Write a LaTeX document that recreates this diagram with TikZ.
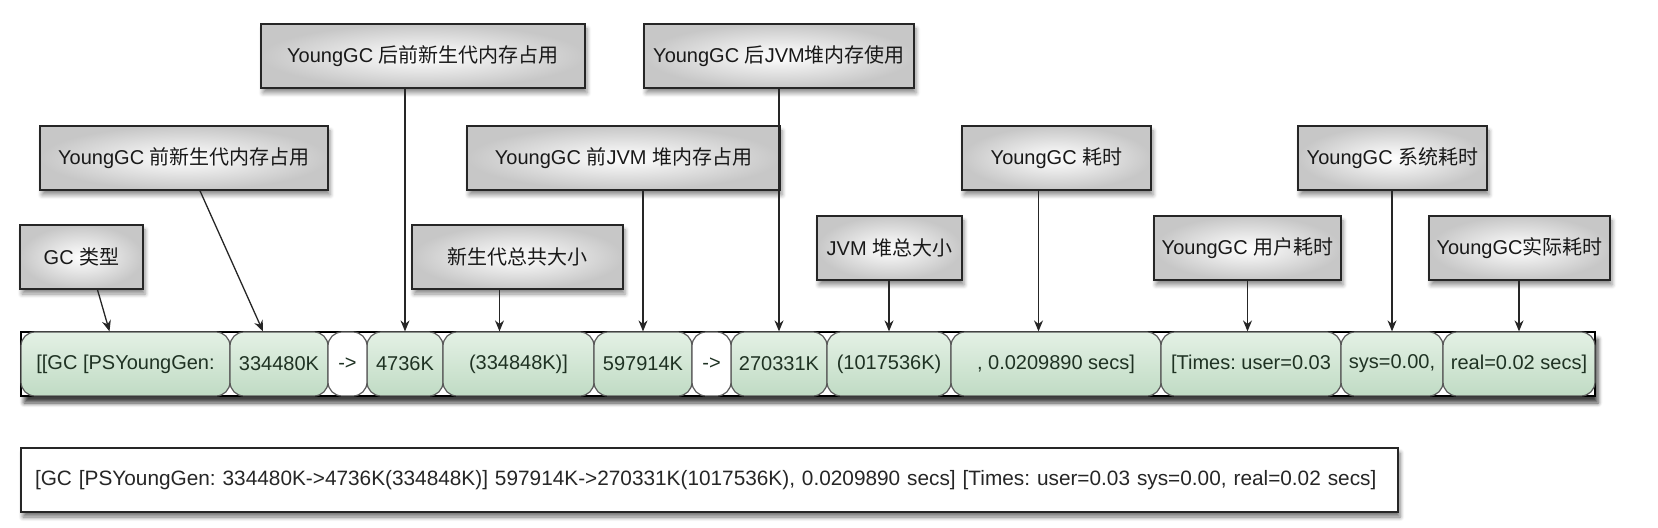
\documentclass[tikz,border=0pt]{standalone}
\usepackage{fontspec}
\setmainfont{Liberation Sans}
\newfontfamily\cjkfont{Noto Sans CJK SC}
\newcommand{\zhtext}[1]{{\cjkfont #1}}
\frenchspacing
\usetikzlibrary{arrows.meta,shadows.blur,positioning}
\definecolor{celltop}{HTML}{E4F1E5}
\definecolor{cellbot}{HTML}{C0DBC4}
\definecolor{celltext}{HTML}{1F3223}
\tikzstyle{tagbox}  =[draw=black!85, line width=0.8pt, inner sep=0pt,
                      minimum height=32pt, inner color=white, outer color=black!22,
                      blur shadow={shadow xshift=1pt, shadow yshift=-2.5pt,
                      shadow opacity=45}, text=black!90,
                      font=\fontsize{10}{12}\selectfont]
\tikzstyle{cellbox} =[draw=black!65, line width=0.6pt, rounded corners=7pt,
                      inner sep=0pt, minimum height=32pt, top color=celltop,
                      bottom color=cellbot, text=celltext,
                      font=\fontsize{10}{12}\selectfont]
\tikzstyle{stepcell}=[cellbox, top color=white, bottom color=white]
\tikzstyle{stripbox}=[draw=black, line width=0.9pt, fill=white, inner sep=0pt,
                      blur shadow={shadow xshift=1.5pt, shadow yshift=-3.5pt,
                      shadow opacity=75}]
\tikzstyle{logbox}  =[draw=black!85, line width=0.8pt, fill=white, inner xsep=7pt,
                      inner ysep=0pt, minimum height=32pt, text=black!85,
                      blur shadow={shadow xshift=1pt, shadow yshift=-2.5pt,
                      shadow opacity=55}, font=\fontsize{10.4}{12}\selectfont]
\tikzstyle{pointer} =[-{Stealth[length=5.5pt, width=4.5pt]}, line width=0.65pt,
                      draw=black!85]

\begin{document}
\begin{tikzpicture}[x=0.5pt, y=-0.5pt]
    \useasboundingbox (0,0) rectangle (1658,528);
    % labels
    \foreach \name/\cx/\cy/\w/\txt in {
        gctype/81.5/257/123/{GC \zhtext{类型}},
        ygold/184/158/288/{YoungGC \zhtext{前新生代内存占用}},
        ygnew/423/56/324/{YoungGC \zhtext{后前新生代内存占用}},
        ygtotal/517.5/257/211/{\zhtext{新生代总共大小}},
        heapold/623.5/158/313/{YoungGC \zhtext{前}JVM \zhtext{堆内存占用}},
        heapnew/779/56/270/{YoungGC \zhtext{后}JVM\zhtext{堆内存使用}},
        heaptotal/889.5/248/145/{JVM \zhtext{堆总大小}},
        gctime/1056.5/158/189/{YoungGC \zhtext{耗时}},
        usertime/1247.5/248/187/{YoungGC \zhtext{用户耗时}},
        systime/1392.5/158/189/{YoungGC \zhtext{系统耗时}},
        realtime/1519.5/248/181/{YoungGC\zhtext{实际耗时}}}
        \node[tagbox, minimum width={0.5pt*\w}] (\name) at (\cx,\cy) {\txt};

    % log line split into fields
    \node[stripbox, minimum width={0.5pt*1574}, minimum height=32pt] (strip) at (808,364) {};
    \foreach \name/\xa/\xb/\txt in {
        gc/21/230/{[[GC [PSYoungGen:},
        c334/230/328/{334480K},
        c4736/367/443/{4736K},
        c3348/443/594/{(334848K)]},
        c5979/594/692/{597914K},
        c2703/731/827/{270331K},
        c1017/827/951/{(1017536K)},
        csecs/951/1161/{, 0.0209890 secs]},
        cuser/1161/1341/{[Times: user=0.03},
        csys/1341/1443/{sys=0.00,},
        creal/1443/1595/{real=0.02 secs]}}
        \node[cellbox, minimum width={0.5pt*(\xb-\xa)}] (\name) at ({(\xa+\xb)/2},364) {\txt};
    \node[stepcell, minimum width={0.5pt*39}] (to1) at (347.5,364) {->};
    \node[stepcell, minimum width={0.5pt*39}] (to2) at (711.5,364) {->};

    % whole log line
    \node[logbox, text width={0.5pt*1377-14pt}, align=left] (logline) at (709.5,480)
        {[GC [PSYoungGen: 334480K->4736K(334848K)] 597914K->270331K(1017536K), 0.0209890 secs] [Times: user=0.03 sys=0.00, real=0.02 secs]};

    % pointers
    \coordinate (ygtotalfoot) at ([xshift=-9pt]ygtotal.south);
    \coordinate (gctimefoot) at ([xshift=-9pt]gctime.south);
    \draw[pointer] ([xshift=8pt]gctype.south) -- ([xshift=-8pt]gc.north);
    \draw[pointer] ([xshift=8pt]ygold.south) -- ([xshift=-8pt]c334.north);
    \draw[pointer] (ygnew.south -| c4736.north) -- (c4736.north);
    \draw[pointer] (ygtotalfoot) -- (ygtotalfoot |- c3348.north);
    \draw[pointer] (heapold.south -| c5979.north) -- (c5979.north);
    \draw[pointer] (heapnew.south -| c2703.north) -- (c2703.north);
    \draw[pointer] (heaptotal.south -| c1017.north) -- (c1017.north);
    \draw[pointer] (gctimefoot) -- (gctimefoot |- csecs.north);
    \draw[pointer] (usertime.south) -- (usertime.south |- cuser.north);
    \draw[pointer] (systime.south -| csys.north) -- (csys.north);
    \draw[pointer] (realtime.south -| creal.north) -- (creal.north);
\end{tikzpicture}
\end{document}
